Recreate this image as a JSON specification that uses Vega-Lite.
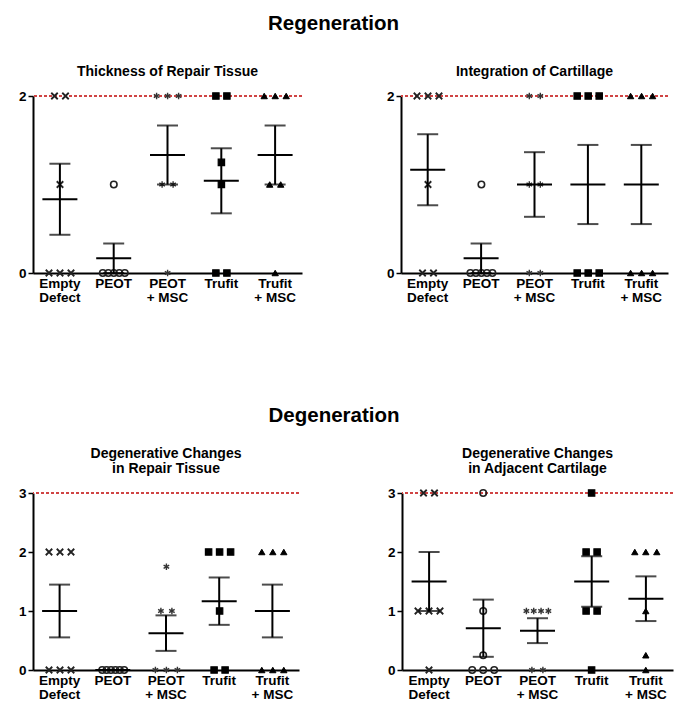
{
  "$schema": "https://vega.github.io/schema/vega-lite/v6.json",
  "padding": {"left": 18, "top": 13, "right": 0, "bottom": 0},
  "background": "white",
  "config": {
    "font": "Liberation Sans",
    "view": {"stroke": null},
    "axis": {
      "grid": false,
      "domainColor": "black",
      "domainWidth": 2,
      "tickColor": "black",
      "tickWidth": 1.5,
      "labelFont": "Liberation Sans",
      "labelFontWeight": "bold",
      "labelColor": "black",
      "labelFontSize": 13.5
    },
    "title": {"font": "Liberation Sans", "fontWeight": "bold", "color": "black", "fontSize": 14, "lineHeight": 15.5}
  },
  "datasets": {
    "scores": [
      {"panel": "A", "group": "Empty Defect", "score": 2},
      {"panel": "A", "group": "Empty Defect", "score": 2},
      {"panel": "A", "group": "Empty Defect", "score": 1},
      {"panel": "A", "group": "Empty Defect", "score": 0},
      {"panel": "A", "group": "Empty Defect", "score": 0},
      {"panel": "A", "group": "Empty Defect", "score": 0},
      {"panel": "A", "group": "PEOT", "score": 1},
      {"panel": "A", "group": "PEOT", "score": 0},
      {"panel": "A", "group": "PEOT", "score": 0},
      {"panel": "A", "group": "PEOT", "score": 0},
      {"panel": "A", "group": "PEOT", "score": 0},
      {"panel": "A", "group": "PEOT", "score": 0},
      {"panel": "A", "group": "PEOT + MSC", "score": 2},
      {"panel": "A", "group": "PEOT + MSC", "score": 2},
      {"panel": "A", "group": "PEOT + MSC", "score": 2},
      {"panel": "A", "group": "PEOT + MSC", "score": 1},
      {"panel": "A", "group": "PEOT + MSC", "score": 1},
      {"panel": "A", "group": "PEOT + MSC", "score": 0},
      {"panel": "A", "group": "Trufit", "score": 2},
      {"panel": "A", "group": "Trufit", "score": 2},
      {"panel": "A", "group": "Trufit", "score": 1.25},
      {"panel": "A", "group": "Trufit", "score": 1},
      {"panel": "A", "group": "Trufit", "score": 0},
      {"panel": "A", "group": "Trufit", "score": 0},
      {"panel": "A", "group": "Trufit + MSC", "score": 2},
      {"panel": "A", "group": "Trufit + MSC", "score": 2},
      {"panel": "A", "group": "Trufit + MSC", "score": 2},
      {"panel": "A", "group": "Trufit + MSC", "score": 1},
      {"panel": "A", "group": "Trufit + MSC", "score": 1},
      {"panel": "A", "group": "Trufit + MSC", "score": 0},

      {"panel": "B", "group": "Empty Defect", "score": 2},
      {"panel": "B", "group": "Empty Defect", "score": 2},
      {"panel": "B", "group": "Empty Defect", "score": 2},
      {"panel": "B", "group": "Empty Defect", "score": 1},
      {"panel": "B", "group": "Empty Defect", "score": 0},
      {"panel": "B", "group": "Empty Defect", "score": 0},
      {"panel": "B", "group": "PEOT", "score": 1},
      {"panel": "B", "group": "PEOT", "score": 0},
      {"panel": "B", "group": "PEOT", "score": 0},
      {"panel": "B", "group": "PEOT", "score": 0},
      {"panel": "B", "group": "PEOT", "score": 0},
      {"panel": "B", "group": "PEOT", "score": 0},
      {"panel": "B", "group": "PEOT + MSC", "score": 2},
      {"panel": "B", "group": "PEOT + MSC", "score": 2},
      {"panel": "B", "group": "PEOT + MSC", "score": 1},
      {"panel": "B", "group": "PEOT + MSC", "score": 1},
      {"panel": "B", "group": "PEOT + MSC", "score": 0},
      {"panel": "B", "group": "PEOT + MSC", "score": 0},
      {"panel": "B", "group": "Trufit", "score": 2},
      {"panel": "B", "group": "Trufit", "score": 2},
      {"panel": "B", "group": "Trufit", "score": 2},
      {"panel": "B", "group": "Trufit", "score": 0},
      {"panel": "B", "group": "Trufit", "score": 0},
      {"panel": "B", "group": "Trufit", "score": 0},
      {"panel": "B", "group": "Trufit + MSC", "score": 2},
      {"panel": "B", "group": "Trufit + MSC", "score": 2},
      {"panel": "B", "group": "Trufit + MSC", "score": 2},
      {"panel": "B", "group": "Trufit + MSC", "score": 0},
      {"panel": "B", "group": "Trufit + MSC", "score": 0},
      {"panel": "B", "group": "Trufit + MSC", "score": 0},

      {"panel": "C", "group": "Empty Defect", "score": 2},
      {"panel": "C", "group": "Empty Defect", "score": 2},
      {"panel": "C", "group": "Empty Defect", "score": 2},
      {"panel": "C", "group": "Empty Defect", "score": 0},
      {"panel": "C", "group": "Empty Defect", "score": 0},
      {"panel": "C", "group": "Empty Defect", "score": 0},
      {"panel": "C", "group": "PEOT", "score": 0},
      {"panel": "C", "group": "PEOT", "score": 0},
      {"panel": "C", "group": "PEOT", "score": 0},
      {"panel": "C", "group": "PEOT", "score": 0},
      {"panel": "C", "group": "PEOT", "score": 0},
      {"panel": "C", "group": "PEOT", "score": 0},
      {"panel": "C", "group": "PEOT + MSC", "score": 1.75},
      {"panel": "C", "group": "PEOT + MSC", "score": 1},
      {"panel": "C", "group": "PEOT + MSC", "score": 1},
      {"panel": "C", "group": "PEOT + MSC", "score": 0},
      {"panel": "C", "group": "PEOT + MSC", "score": 0},
      {"panel": "C", "group": "PEOT + MSC", "score": 0},
      {"panel": "C", "group": "Trufit", "score": 2},
      {"panel": "C", "group": "Trufit", "score": 2},
      {"panel": "C", "group": "Trufit", "score": 2},
      {"panel": "C", "group": "Trufit", "score": 1},
      {"panel": "C", "group": "Trufit", "score": 0},
      {"panel": "C", "group": "Trufit", "score": 0},
      {"panel": "C", "group": "Trufit + MSC", "score": 2},
      {"panel": "C", "group": "Trufit + MSC", "score": 2},
      {"panel": "C", "group": "Trufit + MSC", "score": 2},
      {"panel": "C", "group": "Trufit + MSC", "score": 0},
      {"panel": "C", "group": "Trufit + MSC", "score": 0},
      {"panel": "C", "group": "Trufit + MSC", "score": 0},

      {"panel": "D", "group": "Empty Defect", "score": 3},
      {"panel": "D", "group": "Empty Defect", "score": 3},
      {"panel": "D", "group": "Empty Defect", "score": 1},
      {"panel": "D", "group": "Empty Defect", "score": 1},
      {"panel": "D", "group": "Empty Defect", "score": 1},
      {"panel": "D", "group": "Empty Defect", "score": 0},
      {"panel": "D", "group": "PEOT", "score": 3},
      {"panel": "D", "group": "PEOT", "score": 1},
      {"panel": "D", "group": "PEOT", "score": 0.25},
      {"panel": "D", "group": "PEOT", "score": 0},
      {"panel": "D", "group": "PEOT", "score": 0},
      {"panel": "D", "group": "PEOT", "score": 0},
      {"panel": "D", "group": "PEOT + MSC", "score": 1},
      {"panel": "D", "group": "PEOT + MSC", "score": 1},
      {"panel": "D", "group": "PEOT + MSC", "score": 1},
      {"panel": "D", "group": "PEOT + MSC", "score": 1},
      {"panel": "D", "group": "PEOT + MSC", "score": 0},
      {"panel": "D", "group": "PEOT + MSC", "score": 0},
      {"panel": "D", "group": "Trufit", "score": 3},
      {"panel": "D", "group": "Trufit", "score": 2},
      {"panel": "D", "group": "Trufit", "score": 2},
      {"panel": "D", "group": "Trufit", "score": 1},
      {"panel": "D", "group": "Trufit", "score": 1},
      {"panel": "D", "group": "Trufit", "score": 0},
      {"panel": "D", "group": "Trufit + MSC", "score": 2},
      {"panel": "D", "group": "Trufit + MSC", "score": 2},
      {"panel": "D", "group": "Trufit + MSC", "score": 2},
      {"panel": "D", "group": "Trufit + MSC", "score": 1},
      {"panel": "D", "group": "Trufit + MSC", "score": 0.25},
      {"panel": "D", "group": "Trufit + MSC", "score": 0}
    ]
  },
  "spacing": 102,
  "vconcat": [
    {
      "title": {"text": "Regeneration", "fontSize": 20.5, "anchor": "middle", "offset": 31, "dx": -10},
      "spacing": 83,
      "hconcat": [
        {
          "width": 269, "height": 177,
          "title": {"text": "Thickness of Repair Tissue", "offset": 10},
          "data": {"name": "scores"},
          "transform": [{"filter": "datum.panel == 'A'"}],
          "encoding": {
            "x": {"field": "group", "type": "nominal", "sort": ["Empty Defect", "PEOT", "PEOT + MSC", "Trufit", "Trufit + MSC"], "scale": {"paddingInner": 0, "paddingOuter": 0}, "axis": {"title": null, "labelAngle": 0, "ticks": false, "labelPadding": 3, "labelLineHeight": 14, "labelExpr": "datum.label == 'Empty Defect' ? ['Empty', 'Defect'] : datum.label == 'PEOT + MSC' ? ['PEOT', '+ MSC'] : datum.label == 'Trufit + MSC' ? ['Trufit', '+ MSC'] : datum.label"}}
          },
          "layer": [
            {"mark": {"type": "rule", "color": "#d04545", "strokeDash": [3, 2], "strokeWidth": 1.2}, "encoding": {"x": null, "y": {"datum": 2, "type": "quantitative", "scale": {"domain": [0, 2], "nice": false}, "axis": {"title": null, "values": [0, 1, 2], "format": "d", "tickSize": 5, "labelPadding": 2}}}},
            {
              "transform": [
                {"window": [{"op": "row_number", "as": "r"}, {"op": "count", "as": "n"}], "groupby": ["group", "score"], "frame": [null, null]},
                {"calculate": "(datum.r - (datum.n + 1) / 2) * 2 / max(datum.n - 1, 2)", "as": "spread"}
              ],
              "mark": {"type": "point", "filled": false, "opacity": 1, "clip": false},
              "encoding": {
                "y": {"field": "score", "type": "quantitative"},
                "xOffset": {"field": "spread", "type": "quantitative", "scale": {"domain": [-1, 1], "range": [16, 38]}},
                "shape": {"field": "group", "type": "nominal", "legend": null, "scale": {"domain": ["Empty Defect", "PEOT", "PEOT + MSC", "Trufit", "Trufit + MSC"], "range": ["M-1,-1L1,1M-1,1L1,-1", "circle", "M0,-1L0,1M-0.87,-0.5L0.87,0.5M-0.87,0.5L0.87,-0.5", "square", "triangle-up"]}},
                "fill": {"field": "group", "type": "nominal", "legend": null, "scale": {"domain": ["Empty Defect", "PEOT", "PEOT + MSC", "Trufit", "Trufit + MSC"], "range": ["black", "transparent", "#333333", "black", "black"]}},
                "stroke": {"field": "group", "type": "nominal", "legend": null, "scale": {"domain": ["Empty Defect", "PEOT", "PEOT + MSC", "Trufit", "Trufit + MSC"], "range": ["#222222", "#222222", "#333333", "black", "black"]}},
                "size": {"field": "group", "type": "nominal", "legend": null, "scale": {"domain": ["Empty Defect", "PEOT", "PEOT + MSC", "Trufit", "Trufit + MSC"], "range": [42, 40, 42, 56, 42]}},
                "strokeWidth": {"field": "group", "type": "nominal", "legend": null, "scale": {"domain": ["Empty Defect", "PEOT", "PEOT + MSC", "Trufit", "Trufit + MSC"], "range": [1.8, 1, 2.4, 0.5, 0.5]}}
              }
            },
            {"mark": {"type": "tick", "color": "black", "thickness": 2, "size": 35}, "encoding": {"y": {"aggregate": "mean", "field": "score", "type": "quantitative"}}},
            {"mark": {"type": "errorbar", "extent": "stderr", "ticks": {"size": 21}, "thickness": 2, "color": "black"}, "encoding": {"y": {"field": "score", "type": "quantitative"}}}
          ]
        },
        {
          "width": 267, "height": 177,
          "title": {"text": "Integration of Cartillage", "offset": 10},
          "data": {"name": "scores"},
          "transform": [{"filter": "datum.panel == 'B'"}],
          "encoding": {
            "x": {"field": "group", "type": "nominal", "sort": ["Empty Defect", "PEOT", "PEOT + MSC", "Trufit", "Trufit + MSC"], "scale": {"paddingInner": 0, "paddingOuter": 0}, "axis": {"title": null, "labelAngle": 0, "ticks": false, "labelPadding": 3, "labelLineHeight": 14, "labelExpr": "datum.label == 'Empty Defect' ? ['Empty', 'Defect'] : datum.label == 'PEOT + MSC' ? ['PEOT', '+ MSC'] : datum.label == 'Trufit + MSC' ? ['Trufit', '+ MSC'] : datum.label"}}
          },
          "layer": [
            {"mark": {"type": "rule", "color": "#d04545", "strokeDash": [3, 2], "strokeWidth": 1.2}, "encoding": {"x": null, "y": {"datum": 2, "type": "quantitative", "scale": {"domain": [0, 2], "nice": false}, "axis": {"title": null, "values": [0, 1, 2], "format": "d", "tickSize": 5, "labelPadding": 2}}}},
            {
              "transform": [
                {"window": [{"op": "row_number", "as": "r"}, {"op": "count", "as": "n"}], "groupby": ["group", "score"], "frame": [null, null]},
                {"calculate": "(datum.r - (datum.n + 1) / 2) * 2 / max(datum.n - 1, 2)", "as": "spread"}
              ],
              "mark": {"type": "point", "filled": false, "opacity": 1, "clip": false},
              "encoding": {
                "y": {"field": "score", "type": "quantitative"},
                "xOffset": {"field": "spread", "type": "quantitative", "scale": {"domain": [-1, 1], "range": [16, 38]}},
                "shape": {"field": "group", "type": "nominal", "legend": null, "scale": {"domain": ["Empty Defect", "PEOT", "PEOT + MSC", "Trufit", "Trufit + MSC"], "range": ["M-1,-1L1,1M-1,1L1,-1", "circle", "M0,-1L0,1M-0.87,-0.5L0.87,0.5M-0.87,0.5L0.87,-0.5", "square", "triangle-up"]}},
                "fill": {"field": "group", "type": "nominal", "legend": null, "scale": {"domain": ["Empty Defect", "PEOT", "PEOT + MSC", "Trufit", "Trufit + MSC"], "range": ["black", "transparent", "#333333", "black", "black"]}},
                "stroke": {"field": "group", "type": "nominal", "legend": null, "scale": {"domain": ["Empty Defect", "PEOT", "PEOT + MSC", "Trufit", "Trufit + MSC"], "range": ["#222222", "#222222", "#333333", "black", "black"]}},
                "size": {"field": "group", "type": "nominal", "legend": null, "scale": {"domain": ["Empty Defect", "PEOT", "PEOT + MSC", "Trufit", "Trufit + MSC"], "range": [42, 40, 42, 56, 42]}},
                "strokeWidth": {"field": "group", "type": "nominal", "legend": null, "scale": {"domain": ["Empty Defect", "PEOT", "PEOT + MSC", "Trufit", "Trufit + MSC"], "range": [1.8, 1, 2.4, 0.5, 0.5]}}
              }
            },
            {"mark": {"type": "tick", "color": "black", "thickness": 2, "size": 35}, "encoding": {"y": {"aggregate": "mean", "field": "score", "type": "quantitative"}}},
            {"mark": {"type": "errorbar", "extent": "stderr", "ticks": {"size": 21}, "thickness": 2, "color": "black"}, "encoding": {"y": {"field": "score", "type": "quantitative"}}}
          ]
        }
      ]
    },
    {
      "title": {"text": "Degeneration", "fontSize": 20.5, "anchor": "middle", "offset": 20, "dx": -12},
      "spacing": 87,
      "hconcat": [
        {
          "width": 266, "height": 177,
          "title": {"text": ["Degenerative Changes", "in Repair Tissue"], "offset": 10},
          "data": {"name": "scores"},
          "transform": [{"filter": "datum.panel == 'C'"}],
          "encoding": {
            "x": {"field": "group", "type": "nominal", "sort": ["Empty Defect", "PEOT", "PEOT + MSC", "Trufit", "Trufit + MSC"], "scale": {"paddingInner": 0, "paddingOuter": 0}, "axis": {"title": null, "labelAngle": 0, "ticks": false, "labelPadding": 3, "labelLineHeight": 14, "labelExpr": "datum.label == 'Empty Defect' ? ['Empty', 'Defect'] : datum.label == 'PEOT + MSC' ? ['PEOT', '+ MSC'] : datum.label == 'Trufit + MSC' ? ['Trufit', '+ MSC'] : datum.label"}}
          },
          "layer": [
            {"mark": {"type": "rule", "color": "#d04545", "strokeDash": [3, 2], "strokeWidth": 1.2}, "encoding": {"x": null, "y": {"datum": 3, "type": "quantitative", "scale": {"domain": [0, 3], "nice": false}, "axis": {"title": null, "values": [0, 1, 2, 3], "format": "d", "tickSize": 5, "labelPadding": 2}}}},
            {
              "transform": [
                {"window": [{"op": "row_number", "as": "r"}, {"op": "count", "as": "n"}], "groupby": ["group", "score"], "frame": [null, null]},
                {"calculate": "(datum.r - (datum.n + 1) / 2) * 2 / max(datum.n - 1, 2)", "as": "spread"}
              ],
              "mark": {"type": "point", "filled": false, "opacity": 1, "clip": false},
              "encoding": {
                "y": {"field": "score", "type": "quantitative"},
                "xOffset": {"field": "spread", "type": "quantitative", "scale": {"domain": [-1, 1], "range": [16, 38]}},
                "shape": {"field": "group", "type": "nominal", "legend": null, "scale": {"domain": ["Empty Defect", "PEOT", "PEOT + MSC", "Trufit", "Trufit + MSC"], "range": ["M-1,-1L1,1M-1,1L1,-1", "circle", "M0,-1L0,1M-0.87,-0.5L0.87,0.5M-0.87,0.5L0.87,-0.5", "square", "triangle-up"]}},
                "fill": {"field": "group", "type": "nominal", "legend": null, "scale": {"domain": ["Empty Defect", "PEOT", "PEOT + MSC", "Trufit", "Trufit + MSC"], "range": ["black", "transparent", "#333333", "black", "black"]}},
                "stroke": {"field": "group", "type": "nominal", "legend": null, "scale": {"domain": ["Empty Defect", "PEOT", "PEOT + MSC", "Trufit", "Trufit + MSC"], "range": ["#222222", "#222222", "#333333", "black", "black"]}},
                "size": {"field": "group", "type": "nominal", "legend": null, "scale": {"domain": ["Empty Defect", "PEOT", "PEOT + MSC", "Trufit", "Trufit + MSC"], "range": [42, 40, 42, 56, 42]}},
                "strokeWidth": {"field": "group", "type": "nominal", "legend": null, "scale": {"domain": ["Empty Defect", "PEOT", "PEOT + MSC", "Trufit", "Trufit + MSC"], "range": [1.8, 1, 2.4, 0.5, 0.5]}}
              }
            },
            {"mark": {"type": "tick", "color": "black", "thickness": 2, "size": 35}, "encoding": {"y": {"aggregate": "mean", "field": "score", "type": "quantitative"}}},
            {"mark": {"type": "errorbar", "extent": "stderr", "ticks": {"size": 21}, "thickness": 2, "color": "black"}, "encoding": {"y": {"field": "score", "type": "quantitative"}}}
          ]
        },
        {
          "width": 271, "height": 177,
          "title": {"text": ["Degenerative Changes", "in Adjacent Cartilage"], "offset": 10},
          "data": {"name": "scores"},
          "transform": [{"filter": "datum.panel == 'D'"}],
          "encoding": {
            "x": {"field": "group", "type": "nominal", "sort": ["Empty Defect", "PEOT", "PEOT + MSC", "Trufit", "Trufit + MSC"], "scale": {"paddingInner": 0, "paddingOuter": 0}, "axis": {"title": null, "labelAngle": 0, "ticks": false, "labelPadding": 3, "labelLineHeight": 14, "labelExpr": "datum.label == 'Empty Defect' ? ['Empty', 'Defect'] : datum.label == 'PEOT + MSC' ? ['PEOT', '+ MSC'] : datum.label == 'Trufit + MSC' ? ['Trufit', '+ MSC'] : datum.label"}}
          },
          "layer": [
            {"mark": {"type": "rule", "color": "#d04545", "strokeDash": [3, 2], "strokeWidth": 1.2}, "encoding": {"x": null, "y": {"datum": 3, "type": "quantitative", "scale": {"domain": [0, 3], "nice": false}, "axis": {"title": null, "values": [0, 1, 2, 3], "format": "d", "tickSize": 5, "labelPadding": 2}}}},
            {
              "transform": [
                {"window": [{"op": "row_number", "as": "r"}, {"op": "count", "as": "n"}], "groupby": ["group", "score"], "frame": [null, null]},
                {"calculate": "(datum.r - (datum.n + 1) / 2) * 2 / max(datum.n - 1, 2)", "as": "spread"}
              ],
              "mark": {"type": "point", "filled": false, "opacity": 1, "clip": false},
              "encoding": {
                "y": {"field": "score", "type": "quantitative"},
                "xOffset": {"field": "spread", "type": "quantitative", "scale": {"domain": [-1, 1], "range": [16, 38]}},
                "shape": {"field": "group", "type": "nominal", "legend": null, "scale": {"domain": ["Empty Defect", "PEOT", "PEOT + MSC", "Trufit", "Trufit + MSC"], "range": ["M-1,-1L1,1M-1,1L1,-1", "circle", "M0,-1L0,1M-0.87,-0.5L0.87,0.5M-0.87,0.5L0.87,-0.5", "square", "triangle-up"]}},
                "fill": {"field": "group", "type": "nominal", "legend": null, "scale": {"domain": ["Empty Defect", "PEOT", "PEOT + MSC", "Trufit", "Trufit + MSC"], "range": ["black", "transparent", "#333333", "black", "black"]}},
                "stroke": {"field": "group", "type": "nominal", "legend": null, "scale": {"domain": ["Empty Defect", "PEOT", "PEOT + MSC", "Trufit", "Trufit + MSC"], "range": ["#222222", "#222222", "#333333", "black", "black"]}},
                "size": {"field": "group", "type": "nominal", "legend": null, "scale": {"domain": ["Empty Defect", "PEOT", "PEOT + MSC", "Trufit", "Trufit + MSC"], "range": [42, 40, 42, 56, 42]}},
                "strokeWidth": {"field": "group", "type": "nominal", "legend": null, "scale": {"domain": ["Empty Defect", "PEOT", "PEOT + MSC", "Trufit", "Trufit + MSC"], "range": [1.8, 1, 2.4, 0.5, 0.5]}}
              }
            },
            {"mark": {"type": "tick", "color": "black", "thickness": 2, "size": 35}, "encoding": {"y": {"aggregate": "mean", "field": "score", "type": "quantitative"}}},
            {"mark": {"type": "errorbar", "extent": "stderr", "ticks": {"size": 21}, "thickness": 2, "color": "black"}, "encoding": {"y": {"field": "score", "type": "quantitative"}}}
          ]
        }
      ]
    }
  ]
}
